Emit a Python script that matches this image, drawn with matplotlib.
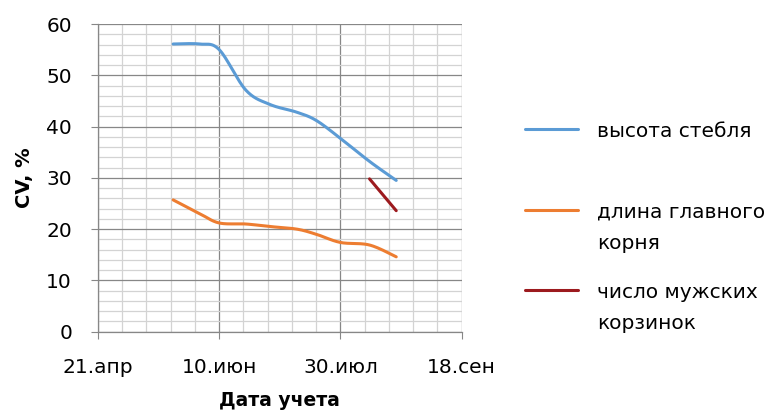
import numpy as np
import pandas as pd
import matplotlib
matplotlib.use('Agg')
import matplotlib.pyplot as plt
import matplotlib.dates as mdates
from matplotlib.lines import Line2D

plt.rcParams['font.family'] = ['DejaVu Sans']

# даты учета и коэффициенты вариации
dates_stem = ['2015-05-22', '2015-06-02', '2015-06-10', '2015-06-21', '2015-07-01',
              '2015-07-12', '2015-07-20', '2015-07-30', '2015-08-11', '2015-08-22']
stem_height = [56.1, 56.1, 55.0, 47.1, 44.3, 42.8, 41.2, 37.7, 33.2, 29.5]

dates_root = ['2015-05-22', '2015-06-02', '2015-06-10', '2015-06-21', '2015-07-01',
              '2015-07-12', '2015-07-20', '2015-07-30', '2015-08-11', '2015-08-22']
root_length = [25.7, 23.0, 21.2, 21.0, 20.5, 20.0, 19.0, 17.4, 16.9, 14.6]

dates_male = ['2015-08-11', '2015-08-22']
male_heads = [29.8, 23.6]

series = [
    ('высота стебля', dates_stem, stem_height, '#5b9bd5'),
    ('длина главного\nкорня', dates_root, root_length, '#ed7d31'),
    ('число мужских\nкорзинок', dates_male, male_heads, '#9c1a1e'),
]

tick_dates = ['2015-04-21', '2015-06-10', '2015-07-30', '2015-09-18']
tick_labels = ['21.апр', '10.июн', '30.июл', '18.сен']

x0 = mdates.date2num(pd.Timestamp(tick_dates[0]))
x1 = mdates.date2num(pd.Timestamp(tick_dates[-1]))
y0, y1 = 0, 60


def smooth(xs, ys, n=30):
    # сглаживание как у Excel: кривые Безье через точки (Catmull-Rom)
    xs = np.asarray(xs, float)
    ys = np.asarray(ys, float)
    if len(xs) < 3:
        return xs, ys
    # работаем в нормированных координатах осей
    u = (xs - x0) / (x1 - x0) * 4.64
    v = (ys - y0) / (y1 - y0) * 3.08
    p = np.column_stack([u, v])
    p = np.vstack([p[0], p, p[-1]])
    out = []
    t = np.linspace(0, 1, n)[:, None]
    for i in range(1, len(p) - 2):
        a, b = p[i], p[i + 1]
        c1 = a + (p[i + 1] - p[i - 1]) / 6
        c2 = b - (p[i + 2] - p[i]) / 6
        seg = ((1 - t) ** 3) * a + 3 * ((1 - t) ** 2) * t * c1 + 3 * (1 - t) * t ** 2 * c2 + t ** 3 * b
        out.append(seg if i == 1 else seg[1:])
    out = np.vstack(out)
    return out[:, 0] / 4.64 * (x1 - x0) + x0, out[:, 1] / 3.08 * (y1 - y0) + y0


fig = plt.figure(figsize=(7.74, 4.17), dpi=100)
ax = fig.add_axes([0.1266, 0.2046, 0.4699, 0.7378])

for label, d, vals, color in series:
    xs = mdates.date2num(pd.to_datetime(d))
    sx, sy = smooth(xs, vals)
    ax.plot(sx, sy, color=color, lw=2.2, solid_capstyle='round', zorder=3)

ax.set_xlim(x0, x1)
ax.set_ylim(y0, y1)

ticks = mdates.date2num(pd.to_datetime(tick_dates))
ax.set_xticks(ticks)
ax.set_xticklabels(tick_labels)
ax.set_xticks(np.arange(x0, x1 + 0.1, 10), minor=True)
ax.set_yticks(np.arange(0, 61, 10))
ax.set_yticks(np.arange(0, 61, 2), minor=True)

ax.grid(which='major', color='#878787', lw=0.9)
ax.grid(which='minor', color='#d3d3d3', lw=0.9)
ax.set_axisbelow(True)

for s in ['top', 'right']:
    ax.spines[s].set_visible(False)
for s in ['left', 'bottom']:
    ax.spines[s].set_color('#878787')
    ax.spines[s].set_linewidth(0.9)

ax.tick_params(which='major', length=5.2, color='#878787', labelsize=14.5)
ax.tick_params(which='minor', length=0)
ax.tick_params(axis='y', pad=13.5)
ax.tick_params(axis='x', pad=14)

ax.set_xlabel('Дата учета', fontsize=13.5, fontweight='bold', labelpad=10)
ax.set_ylabel('CV, %', fontsize=14, fontweight='bold', labelpad=9)

# легенда справа
leg_y = [129, 210, 290]
step = 31.7
for (label, d, vals, color), yy in zip(series, leg_y):
    fy = 1 - yy / 417
    fig.add_artist(Line2D([525 / 774, 578 / 774], [fy, fy], color=color, lw=2.2,
                          solid_capstyle='round', transform=fig.transFigure))
    for k, line in enumerate(label.split('\n')):
        fig.text(597 / 774, 1 - (yy + k * step) / 417, line, fontsize=14.5,
                 va='center_baseline', ha='left', transform=fig.transFigure)

fig.savefig('out.png', dpi=100)
